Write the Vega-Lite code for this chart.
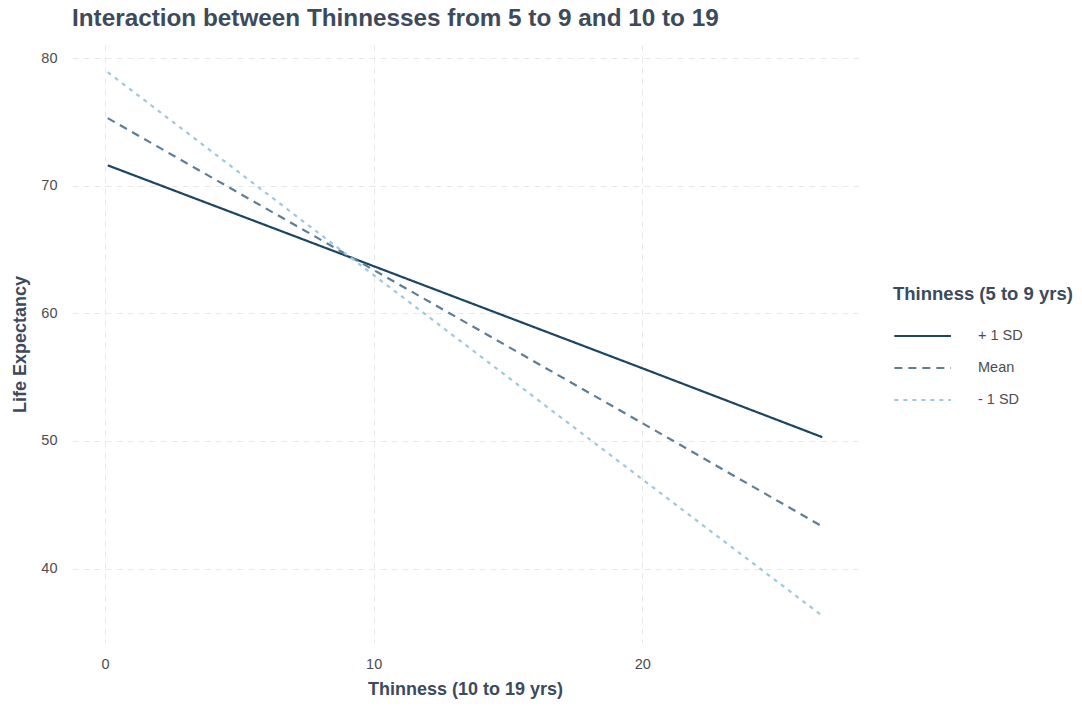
{
  "$schema": "https://vega.github.io/schema/vega-lite/v6.json",
  "width": 786,
  "height": 598,
  "autosize": {"type": "none"},
  "padding": {"left": 72, "top": 45, "right": 224, "bottom": 66},
  "background": "white",
  "title": {
    "text": "Interaction between Thinnesses from 5 to 9 and 10 to 19",
    "anchor": "start",
    "frame": "group",
    "fontSize": 24.3,
    "fontWeight": "bold",
    "color": "#3c4a5c",
    "font": "Liberation Sans",
    "offset": 14
  },
  "config": {
    "view": {"stroke": null},
    "font": "Liberation Sans"
  },
  "data": {
    "values": [
      {"x": 0.1, "y": 71.6, "group": "+ 1 SD"},
      {"x": 10, "y": 63.7, "group": "+ 1 SD"},
      {"x": 20, "y": 55.7, "group": "+ 1 SD"},
      {"x": 26.7, "y": 50.3, "group": "+ 1 SD"},
      {"x": 0.1, "y": 75.3, "group": "Mean"},
      {"x": 10, "y": 63.4, "group": "Mean"},
      {"x": 20, "y": 51.4, "group": "Mean"},
      {"x": 26.7, "y": 43.3, "group": "Mean"},
      {"x": 0.1, "y": 78.9, "group": "- 1 SD"},
      {"x": 10, "y": 63.0, "group": "- 1 SD"},
      {"x": 20, "y": 47.0, "group": "- 1 SD"},
      {"x": 26.7, "y": 36.3, "group": "- 1 SD"}
    ]
  },
  "mark": {"type": "line", "strokeWidth": 2.2},
  "encoding": {
    "x": {
      "field": "x",
      "type": "quantitative",
      "scale": {"domain": [-1.23, 28.03], "nice": false, "zero": false},
      "axis": {
        "title": "Thinness (10 to 19 yrs)",
        "values": [0, 10, 20],
        "domain": false,
        "ticks": false,
        "grid": true,
        "gridColor": "#e8e8e8",
        "gridDash": [6, 5],
        "gridWidth": 1,
        "labelFontSize": 14.5,
        "labelColor": "#4d4d4d",
        "labelPadding": 14,
        "titleFontSize": 18,
        "titleFontWeight": "bold",
        "titleColor": "#3c4a5c",
        "titlePadding": 10
      }
    },
    "y": {
      "field": "y",
      "type": "quantitative",
      "scale": {"domain": [34.17, 81.03], "nice": false, "zero": false},
      "axis": {
        "title": "Life Expectancy",
        "values": [40, 50, 60, 70, 80],
        "domain": false,
        "ticks": false,
        "grid": true,
        "gridColor": "#e8e8e8",
        "gridDash": [6, 5],
        "gridWidth": 1,
        "labelFontSize": 14.5,
        "labelColor": "#4d4d4d",
        "labelPadding": 15,
        "titleFontSize": 18,
        "titleFontWeight": "bold",
        "titleColor": "#3c4a5c",
        "titlePadding": 11
      }
    },
    "color": {
      "field": "group",
      "type": "nominal",
      "scale": {"domain": ["+ 1 SD", "Mean", "- 1 SD"], "range": ["#1c4463", "#5e7e98", "#9ec8de"]},
      "legend": {
        "title": "Thinness (5 to 9 yrs)",
        "orient": "none",
        "legendX": 821,
        "legendY": 240,
        "titleFontSize": 18.5,
        "titleFontWeight": "bold",
        "titleColor": "#3c4a5c",
        "titlePadding": 17,
        "labelFontSize": 14.5,
        "labelColor": "#4d4d4d",
        "labelOffset": 54,
        "symbolType": "M-1,0H3",
        "symbolSize": 800,
        "symbolStrokeWidth": 2.2,
        "rowPadding": 10
      }
    },
    "strokeDash": {
      "field": "group",
      "type": "nominal",
      "scale": {"domain": ["+ 1 SD", "Mean", "- 1 SD"], "range": [[1, 0], [8, 6], [4, 5]]},
      "legend": null
    }
  }
}
